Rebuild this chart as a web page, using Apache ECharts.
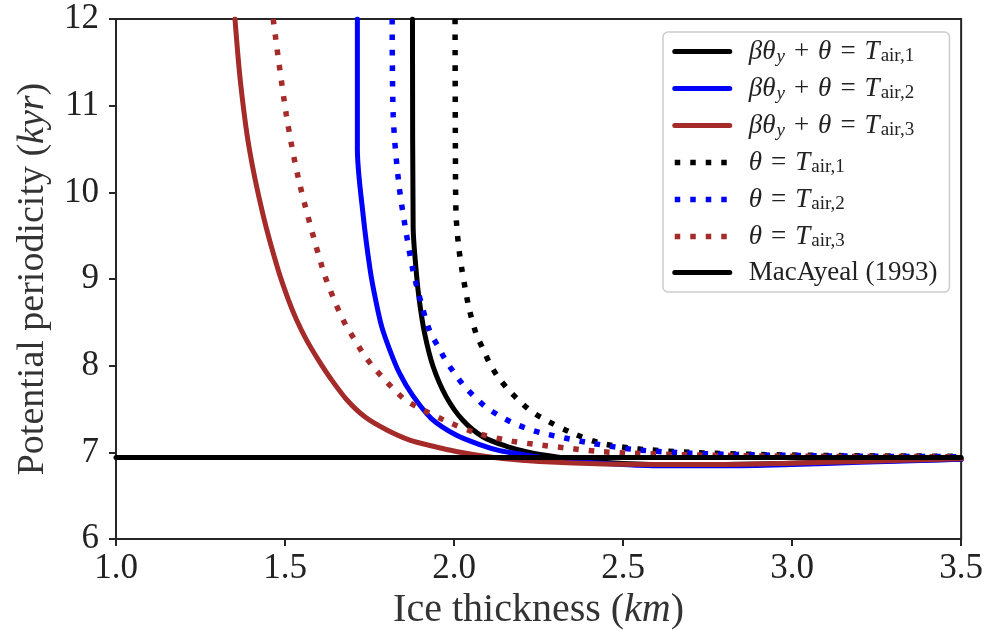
<!DOCTYPE html>
<html>
<head>
<meta charset="utf-8">
<script src="https://cdn.jsdelivr.net/npm/echarts@6/dist/echarts.min.js"></script>
<style>
  html, body { margin: 0; padding: 0; background: #fff; }
  #chart { width: 986px; height: 636px; }
</style>
</head>
<body>
<div id="chart"></div>
<script>
// ice thickness (km) vs potential periodicity (kyr)
const beta1 = [[1.877, 12], [1.879, 9.6], [1.889, 9.05], [1.897, 8.76], [1.913, 8.37], [1.938, 7.99],
  [1.977, 7.64], [2.026, 7.37], [2.085, 7.18], [2.155, 7.07], [2.223, 7.0], [2.3, 6.95], [2.4, 6.9],
  [2.5, 6.87], [2.65, 6.855], [2.8, 6.86], [3.0, 6.875], [3.2, 6.895], [3.5, 6.92]];
const beta2 = [[1.714, 12], [1.714, 10.5], [1.731, 9.74], [1.752, 9.1], [1.768, 8.76], [1.786, 8.45],
  [1.81, 8.18], [1.839, 7.91], [1.877, 7.66], [1.933, 7.39], [2.006, 7.2], [2.076, 7.09],
  [2.135, 7.02], [2.194, 6.98], [2.3, 6.92], [2.45, 6.87], [2.6, 6.845], [2.8, 6.845],
  [3.0, 6.86], [3.2, 6.885], [3.5, 6.92]];
const beta3 = [[1.352, 12], [1.368, 11.28], [1.394, 10.51], [1.435, 9.74], [1.48, 9.1], [1.51, 8.76],
  [1.534, 8.53], [1.563, 8.3], [1.598, 8.07], [1.637, 7.84], [1.682, 7.61], [1.736, 7.41],
  [1.8, 7.26], [1.869, 7.14], [1.938, 7.07], [2.006, 7.01], [2.1, 6.95], [2.2, 6.91], [2.4, 6.87],
  [2.6, 6.86], [2.8, 6.86], [3.0, 6.875], [3.2, 6.895], [3.5, 6.925]];
const theta1 = [[2.003, 12], [2.004, 10.5], [2.006, 9.74], [2.014, 9.36], [2.024, 9.09], [2.033, 8.89],
  [2.045, 8.65], [2.066, 8.36], [2.085, 8.2], [2.105, 8.03], [2.13, 7.87], [2.159, 7.73],
  [2.189, 7.61], [2.223, 7.49], [2.263, 7.39], [2.351, 7.22], [2.43, 7.11], [2.519, 7.05],
  [2.572, 7.03], [2.7, 7.0], [2.9, 6.975], [3.2, 6.96], [3.5, 6.955]];
const theta2 = [[1.817, 12], [1.82, 10.89], [1.836, 10.12], [1.856, 9.59], [1.879, 9.09], [1.903, 8.72],
  [1.928, 8.4], [1.953, 8.22], [1.977, 8.05], [2.002, 7.91], [2.031, 7.76], [2.061, 7.64],
  [2.095, 7.52], [2.135, 7.42], [2.174, 7.34], [2.219, 7.27], [2.263, 7.22], [2.4, 7.11],
  [2.539, 7.03], [2.7, 6.99], [2.9, 6.97], [3.2, 6.955], [3.5, 6.95]];
const theta3 = [[1.465, 12], [1.504, 10.89], [1.542, 10.12], [1.611, 9.12], [1.645, 8.76], [1.662, 8.61],
  [1.682, 8.45], [1.706, 8.3], [1.731, 8.14], [1.758, 8.0], [1.79, 7.86], [1.819, 7.74],
  [1.854, 7.61], [1.893, 7.52], [1.977, 7.36], [2.061, 7.23], [2.155, 7.14], [2.243, 7.09],
  [2.332, 7.05], [2.43, 7.01], [2.53, 6.99], [2.7, 6.97], [3.0, 6.955], [3.5, 6.95]];
const macAyeal = [[1.0, 6.94], [3.5, 6.94]];

const seriesNames = ['beta1', 'beta2', 'beta3', 'theta1', 'theta2', 'theta3', 'MacAyeal (1993)'];
const colors = ['#000000', '#0000ff', '#a52a2a'];

// legend labels in rich text (sub/italic parts)
const legendLabels = {
  beta1: '{i|βθ}{si|y}{op|+}{i|θ}{op|=}{i|T}{s|air,1}',
  beta2: '{i|βθ}{si|y}{op|+}{i|θ}{op|=}{i|T}{s|air,2}',
  beta3: '{i|βθ}{si|y}{op|+}{i|θ}{op|=}{i|T}{s|air,3}',
  theta1: '{i|θ}{op|=}{i|T}{s|air,1}',
  theta2: '{i|θ}{op|=}{i|T}{s|air,2}',
  theta3: '{i|θ}{op|=}{i|T}{s|air,3}',
  'MacAyeal (1993)': '{r|MacAyeal (1993)}'
};

const FONT = 'Liberation Serif';
const TXT = '#222';

function solid(name, data, color, smooth) {
  return {
    name: name, type: 'line', data: data, symbol: 'none', clip: true, smooth: smooth,
    lineStyle: { color: color, width: 5, cap: 'round', join: 'round' },
    itemStyle: { color: color }
  };
}
function dotted(name, data, color) {
  return {
    name: name, type: 'line', data: data, symbol: 'none', clip: true, smooth: 0.3,
    lineStyle: { color: color, width: 5.5, type: [5.5, 10], cap: 'butt' },
    itemStyle: { color: color }
  };
}

const chart = echarts.init(document.getElementById('chart'));

const option = {
  backgroundColor: '#ffffff',
  animation: false,
  grid: {
    left: 116, right: 24, top: 19, bottom: 97,
    show: true, borderColor: '#262626', borderWidth: 2
  },
  xAxis: {
    type: 'value', min: 1.0, max: 3.5, interval: 0.5,
    name: 'Ice thickness ({i|km})',
    nameLocation: 'middle', nameGap: 44,
    nameTextStyle: {
      fontFamily: FONT, fontSize: 40, color: '#333',
      rich: { i: { fontFamily: FONT, fontSize: 40, fontStyle: 'italic', color: '#333' } }
    },
    axisLine: { show: true, lineStyle: { color: '#262626', width: 2 } },
    axisTick: { show: true, inside: false, length: 7, lineStyle: { color: '#262626', width: 2 } },
    axisLabel: {
      fontFamily: FONT, fontSize: 35, color: TXT, margin: 12,
      formatter: v => v.toFixed(1)
    },
    splitLine: { show: false }
  },
  yAxis: {
    type: 'value', min: 6, max: 12, interval: 1,
    name: 'Potential periodicity ({i|kyr})',
    nameLocation: 'middle', nameGap: 64,
    nameTextStyle: {
      fontFamily: FONT, fontSize: 38, color: '#333',
      rich: { i: { fontFamily: FONT, fontSize: 38, fontStyle: 'italic', color: '#333' } }
    },
    axisLine: { show: true, lineStyle: { color: '#262626', width: 2 } },
    axisTick: { show: true, inside: false, length: 7, lineStyle: { color: '#262626', width: 2 } },
    axisLabel: { fontFamily: FONT, fontSize: 35, color: TXT, margin: 17 },
    splitLine: { show: false }
  },
  legend: {
    orient: 'vertical',
    left: 663, top: 32,
    padding: [5, 12, 6, 9],
    itemWidth: 55, itemHeight: 12, itemGap: 8,
    backgroundColor: 'rgba(255,255,255,0.85)',
    borderColor: '#cccccc', borderWidth: 1.5, borderRadius: 5,
    data: seriesNames,
    itemStyle: { opacity: 0 },
    lineStyle: { width: 'inherit' },
    formatter: name => legendLabels[name],
    textStyle: {
      fontFamily: FONT, fontSize: 27, color: TXT, padding: [0, 0, 0, 14],
      rich: {
        r: { fontFamily: FONT, fontSize: 27, color: TXT, lineHeight: 31 },
        op: { fontFamily: FONT, fontSize: 27, color: TXT, lineHeight: 31, padding: [0, 9, 0, 9] },
        i: { fontFamily: FONT, fontSize: 27, fontStyle: 'italic', color: TXT, lineHeight: 31 },
        s: { fontFamily: FONT, fontSize: 19, color: TXT, padding: [10, 0, 0, 1], lineHeight: 31 },
        si: { fontFamily: FONT, fontSize: 19, fontStyle: 'italic', color: TXT, padding: [10, 0, 0, 1], lineHeight: 31 }
      }
    }
  },
  series: [
    solid('beta1', beta1, colors[0], 0.3),
    solid('beta2', beta2, colors[1], 0.3),
    solid('beta3', beta3, colors[2], 0.3),
    dotted('theta1', theta1, colors[0]),
    dotted('theta2', theta2, colors[1]),
    dotted('theta3', theta3, colors[2]),
    solid('MacAyeal (1993)', macAyeal, '#000000', false)
  ]
};

chart.setOption(option);
</script>
</body>
</html>
